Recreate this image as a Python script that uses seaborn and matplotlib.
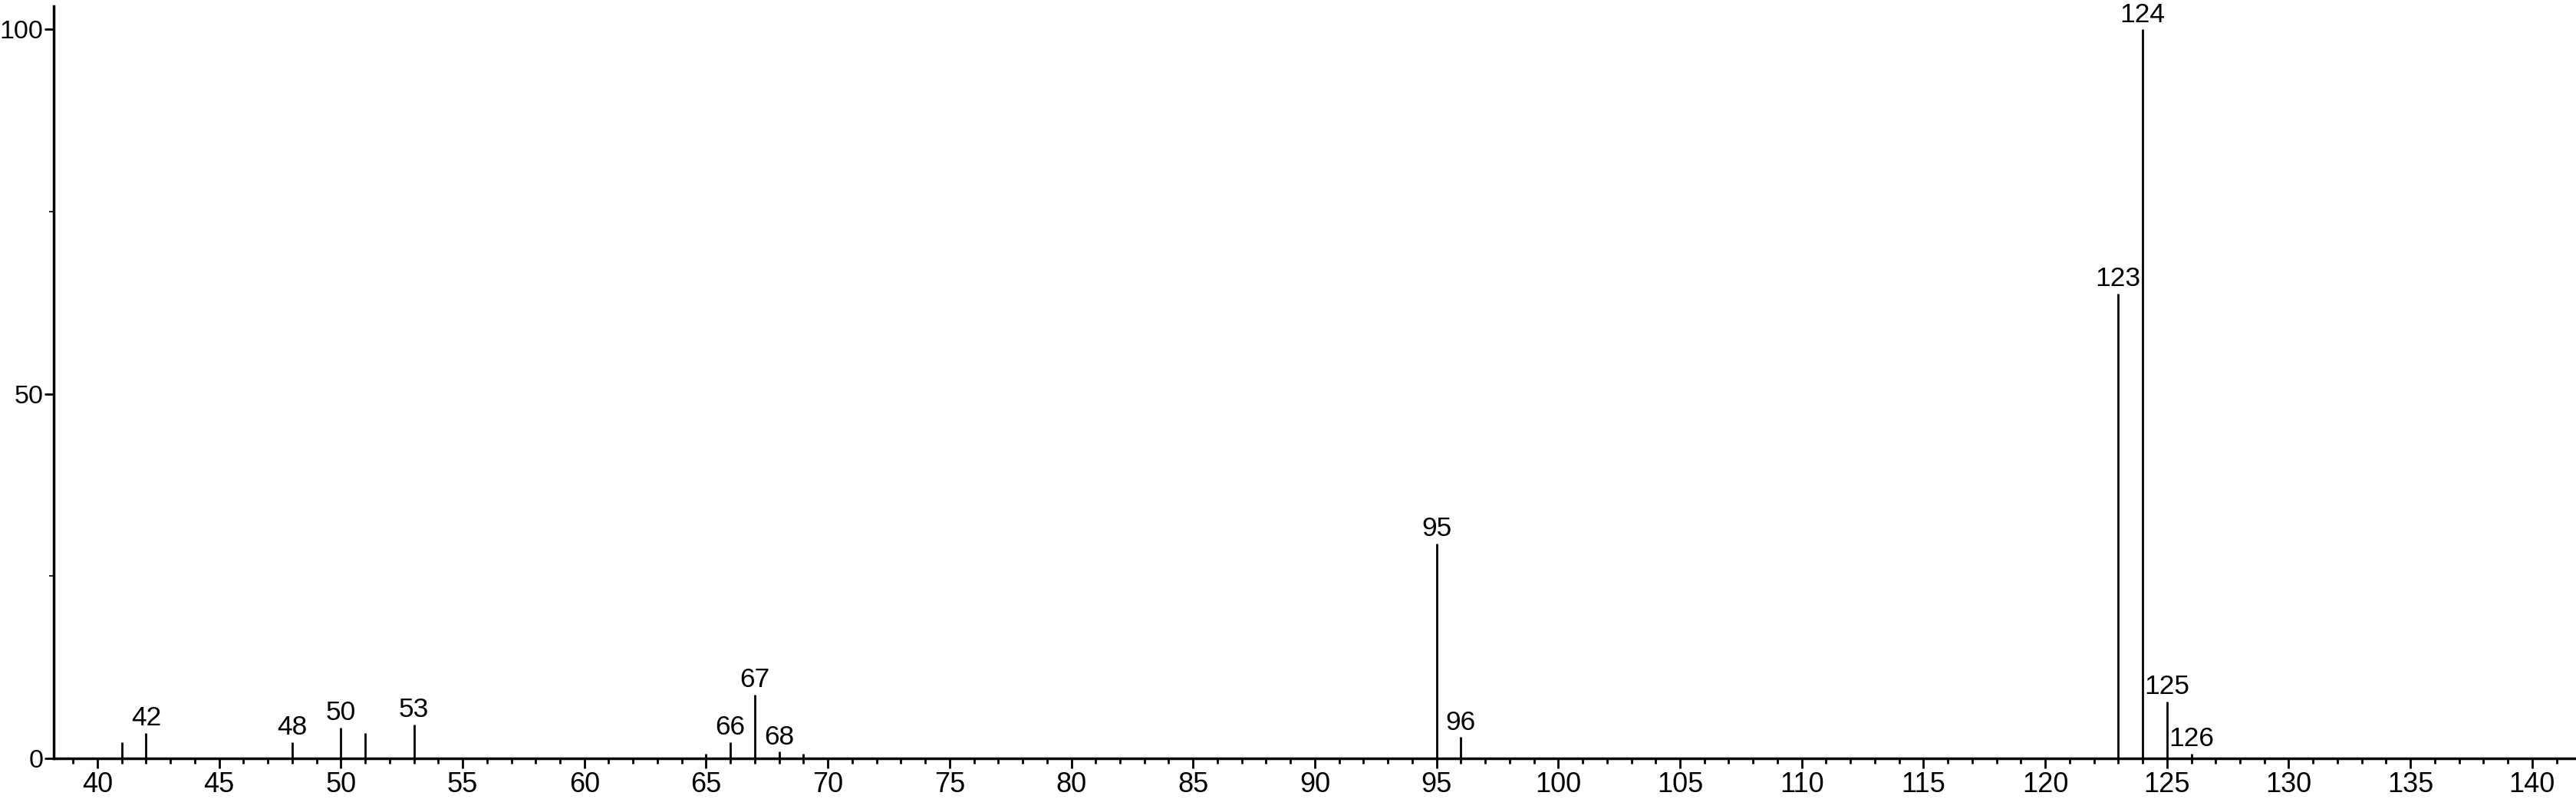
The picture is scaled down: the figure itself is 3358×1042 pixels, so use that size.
import matplotlib
matplotlib.use("Agg")
import matplotlib.pyplot as plt
import seaborn as sns
import pandas as pd
from matplotlib.ticker import MultipleLocator

mz = [41, 42, 48, 50, 51, 53, 65, 66, 67, 68, 69, 95, 96, 123, 124, 125, 126]
intensity = [2.2, 3.5, 2.2, 4.2, 3.5, 4.6, 0.6, 2.2, 8.7, 0.9, 0.6, 29.5, 2.9, 63.8, 100.0, 7.8, 0.6]
labeled = [42, 48, 50, 53, 66, 67, 68, 95, 96, 123, 124, 125, 126]

df = pd.DataFrame({"mz": mz, "intensity": intensity})

sns.set_theme(style="ticks")
plt.rcParams["font.family"] = ["Liberation Sans", "DejaVu Sans"]

fig = plt.figure(figsize=(33.58, 10.42), dpi=100)
ax = fig.add_axes([0.0208, 0.0509, 0.9792, 0.9414])

ax.vlines(df["mz"], 0, df["intensity"], color="black", linewidth=2.0)

for m, v in zip(df["mz"], df["intensity"]):
    if m in labeled:
        ax.annotate(str(m), (m, v), xytext=(0, 2), textcoords="offset points",
                    ha="center", va="bottom", fontsize=25.5, color="black")

ax.set_xlim(38.2, 141.8)
ax.set_ylim(0, 103.2)
ax.xaxis.set_major_locator(MultipleLocator(5))
ax.xaxis.set_minor_locator(MultipleLocator(1))
ax.yaxis.set_major_locator(MultipleLocator(50))
ax.yaxis.set_minor_locator(MultipleLocator(25))
ax.set_xticks(range(40, 141, 5))
ax.tick_params(axis="x", which="major", direction="out", length=9, width=2,
               colors="black", pad=3, labelsize=26)
ax.tick_params(axis="y", which="major", direction="out", length=9, width=2,
               colors="black", pad=0.5, labelsize=24.5)
ax.tick_params(axis="x", which="minor", direction="out", length=5, width=2,
               colors="black")
ax.tick_params(axis="y", which="minor", direction="out", length=4, width=1.2,
               colors="black")

sns.despine(ax=ax, top=True, right=True)
for s in ["left", "bottom"]:
    ax.spines[s].set_linewidth(2.5)
    ax.spines[s].set_color("black")
ax.set_xlabel("")
ax.set_ylabel("")
ax.patch.set_visible(False)

fig.savefig("out.png", dpi=100, facecolor="white")
